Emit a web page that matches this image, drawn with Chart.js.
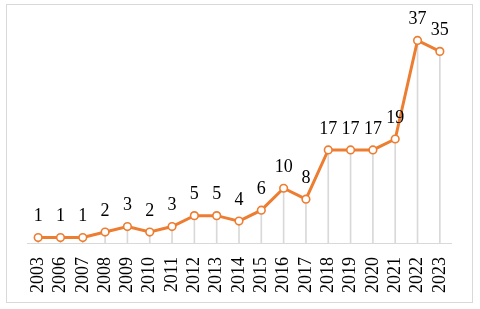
<!DOCTYPE html>
<html>
<head>
<meta charset="utf-8">
<script src="https://cdn.jsdelivr.net/npm/chart.js@4"></script>
<style>
html,body{margin:0;padding:0;background:#fff;}
#wrap{position:absolute;left:0;top:0;width:480px;height:309px;}
#frame{position:absolute;left:6px;top:4px;width:467px;height:299px;border:1px solid #d9d9d9;box-sizing:border-box;pointer-events:none;}
</style>
</head>
<body>
<div id="wrap"><canvas id="c" width="480" height="309"></canvas><div id="frame"></div></div>
<script>
const years = ["2003","2006","2007","2008","2009","2010","2011","2012","2013","2014","2015","2016","2017","2018","2019","2020","2021","2022","2023"];
const counts = [1,1,1,2,3,2,3,5,5,4,6,10,8,17,17,17,19,37,35];
const yMax = 40;

const labelPlugin = {
  id: 'valueLabels',
  afterDatasetsDraw(chart) {
    const meta = chart.getDatasetMeta(1);
    const ctx = chart.ctx;
    ctx.save();
    ctx.font = '18px "Liberation Serif", "Times New Roman", serif';
    ctx.fillStyle = '#000';
    ctx.textAlign = 'center';
    ctx.textBaseline = 'middle';
    meta.data.forEach((pt, i) => {
      ctx.fillText(String(counts[i]), pt.x, pt.y - 21);
    });
    ctx.restore();
  }
};

new Chart(document.getElementById('c'), {
  data: {
    labels: years,
    datasets: [
      {
        type: 'bar',
        data: counts,
        backgroundColor: '#d9d9d9',
        barThickness: 1,
        order: 2
      },
      {
        type: 'line',
        data: counts,
        borderColor: '#ED7D31',
        borderWidth: 3,
        pointRadius: 3.8,
        pointBorderWidth: 1.6,
        pointBackgroundColor: '#fff',
        pointBorderColor: '#ED7D31',
        tension: 0,
        order: 1
      }
    ]
  },
  options: {
    responsive: false,
    animation: false,
    events: [],
    layout: { padding: { left: 27, right: 29, top: 24, bottom: 10 } },
    plugins: { legend: { display: false }, tooltip: { enabled: false } },
    scales: {
      x: {
        offset: true,
        grid: { display: false },
        border: { display: true, color: '#d9d9d9', width: 1 },
        ticks: {
          maxRotation: 90, minRotation: 90, autoSkip: false,
          color: '#000', padding: 6,
          font: { family: '"Liberation Serif", "Times New Roman", serif', size: 18 }
        }
      },
      y: {
        display: false,
        min: 0, max: yMax
      }
    }
  },
  plugins: [labelPlugin]
});
</script>
</body>
</html>
